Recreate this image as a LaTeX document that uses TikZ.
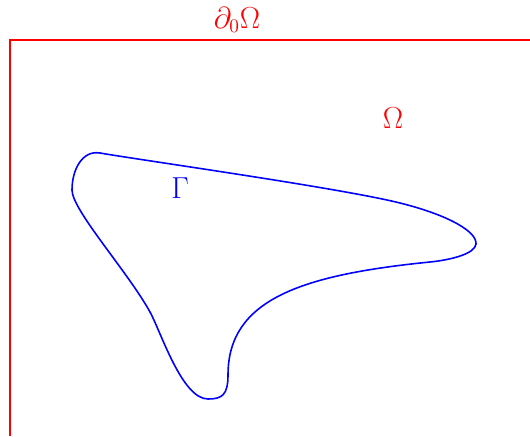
\documentclass[tikz,border=0pt]{standalone}
\usepackage{amsmath,amssymb}
\usepackage{xcolor}
\usepackage{tikz}

\begin{document}
\begin{tikzpicture}[
    x=0.02cm, y=-0.02cm,
    wall/.style={draw=red, line width=0.9pt},
    interface/.style={draw=blue, line width=0.9pt},
    lbl/.style={font=\fontsize{16}{19}\selectfont, inner sep=0pt},
]
\useasboundingbox (0,0) rectangle (530,436);

% Outer boundary
\draw[wall] (10,436) -- (10,40) -- (530,40);
\node[lbl, text=red] (dOmega) at (237,20) {$\partial_0\Omega$};
\node[lbl, text=red] (Omega) at (393,118) {$\Omega$};

% Inner curve
\draw[interface] (100,153)
    .. controls (140,160) and (340,188) .. (400,203)
    .. controls (450,215.5) and (477,232) .. (476,244)
    .. controls (475,254) and (450,260) .. (430,262)
    .. controls (300,275) and (228,300) .. (228,375)
    .. controls (228,395) and (222,399) .. (208,399)
    .. controls (182,399) and (161,332) .. (150,312)
    .. controls (128,272) and (72,210) .. (72,190)
    .. controls (72,170) and (82,150) .. cycle;
\node[lbl, text=blue] (Gamma) at (180,188) {$\Gamma$};

\end{tikzpicture}
\end{document}
